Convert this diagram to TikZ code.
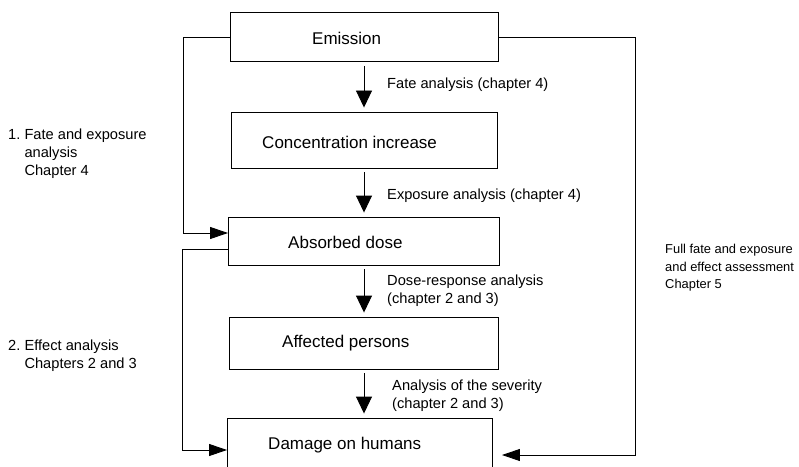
\documentclass[tikz,border=0pt]{standalone}
\usepackage{fontspec}
\setmainfont{Liberation Sans}
\usetikzlibrary{arrows.meta,calc}
\tikzset{
  stage/.style={draw, line width=0.8pt, inner sep=0pt},
  stagetext/.style={anchor=west, inner sep=0pt, font=\fontsize{14.5}{17}\selectfont},
  note/.style={anchor=west, inner sep=0pt, align=left, font=\fontsize{12.5}{15.5}\selectfont},
  flow/.style={line width=0.8pt, -{Triangle[length=5.1mm,width=4.8mm]}, shorten <=1.2mm, shorten >=1.2mm},
  link/.style={line width=0.8pt, -{Triangle[length=5.4mm,width=3.6mm]}}
}
\begin{document}
\begin{tikzpicture}[x=0.3mm, y=-0.3mm]
    \clip (0,0) rectangle (799,467);

    % Boxes
    \node[stage, minimum width=80.4mm, minimum height=14.7mm] (emission) at (364,37) {};
    \node[stage, minimum width=79.8mm, minimum height=16.8mm] (conc) at (364,140) {};
    \node[stage, minimum width=81.3mm, minimum height=14.4mm] (absorbed) at (364,241) {};
    \node[stage, minimum width=80.7mm, minimum height=15.6mm] (affected) at (364,343) {};
    \node[stage, minimum width=79.5mm, minimum height=19.2mm] (damage) at (360,450) {};

    \node[stagetext] (emission-t) at (312,38) {Emission};
    \node[stagetext] (conc-t) at (262,142) {Concentration increase};
    \node[stagetext] (absorbed-t) at (288,242) {Absorbed dose};
    \node[stagetext] (affected-t) at (282,343) {Affected persons};
    \node[stagetext] (damage-t) at (268,445) {Damage on humans};

    % Steps
    \draw[flow] (emission.south) -- (conc.north);
    \draw[flow] (conc.south) -- (absorbed.north);
    \draw[flow] (absorbed.south) -- (affected.north);
    \draw[flow] (affected.south) -- (affected.south |- damage.north);

    \node[note] (fate) at (387,85) {Fate analysis (chapter 4)};
    \node[note] (exposure) at (387,196) {Exposure analysis (chapter 4)};
    \node[note] (response) at (387,291) {Dose-response analysis\\(chapter 2 and 3)};
    \node[note] (severity) at (392,396) {Analysis of the severity\\(chapter 2 and 3)};

    % Short cuts
    \draw[link] (emission.west) -- ++(-46,0) |- ($(absorbed.west)+(0,-8)$);
    \draw[link] ($(absorbed.west)+(0,8)$) -- ++(-46,0) |- (damage.west);
    \draw[link] (emission.east) -- ++(137,0) |- ($(damage.east)+(9,5)$);

    \node[note] (part-one) at (8,154) {1.~Fate and exposure\\\phantom{1.~}analysis\\\phantom{1.~}Chapter 4};
    \node[note] (part-two) at (8,356) {2.~Effect analysis\\\phantom{2.~}Chapters 2 and 3};
    \node[note, font=\fontsize{11}{15}\selectfont] (full) at (665,268) {Full fate and exposure\\and effect assessment\\Chapter 5};
\end{tikzpicture}
\end{document}
